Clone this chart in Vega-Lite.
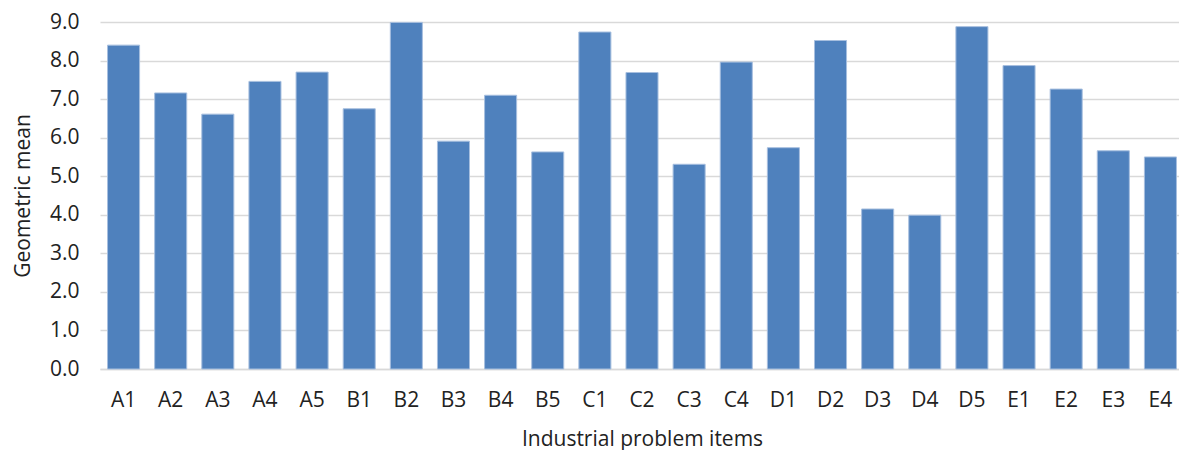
{
  "$schema": "https://vega.github.io/schema/vega-lite/v6.json",
  "width": 1084,
  "height": 347,
  "autosize": {"type": "none"},
  "padding": {"left": 100, "top": 22, "right": 0, "bottom": 81},
  "background": "white",
  "config": {
    "view": {"stroke": null},
    "font": "Open Sans",
    "axis": {
      "labelFont": "Open Sans",
      "titleFont": "Open Sans",
      "labelColor": "#222222",
      "titleColor": "#222222",
      "titleFontWeight": "normal"
    }
  },
  "data": {
    "values": [
      {"item": "A1", "mean": 8.40},
      {"item": "A2", "mean": 7.16},
      {"item": "A3", "mean": 6.61},
      {"item": "A4", "mean": 7.46},
      {"item": "A5", "mean": 7.70},
      {"item": "B1", "mean": 6.75},
      {"item": "B2", "mean": 8.99},
      {"item": "B3", "mean": 5.91},
      {"item": "B4", "mean": 7.10},
      {"item": "B5", "mean": 5.63},
      {"item": "C1", "mean": 8.74},
      {"item": "C2", "mean": 7.69},
      {"item": "C3", "mean": 5.31},
      {"item": "C4", "mean": 7.96},
      {"item": "D1", "mean": 5.74},
      {"item": "D2", "mean": 8.52},
      {"item": "D3", "mean": 4.15},
      {"item": "D4", "mean": 3.99},
      {"item": "D5", "mean": 8.88},
      {"item": "E1", "mean": 7.87},
      {"item": "E2", "mean": 7.26},
      {"item": "E3", "mean": 5.66},
      {"item": "E4", "mean": 5.50}
    ]
  },
  "mark": {
    "type": "bar",
    "color": "#4f81bd",
    "stroke": "#a7bfdf",
    "strokeWidth": 1
  },
  "encoding": {
    "x": {
      "field": "item",
      "type": "nominal",
      "sort": null,
      "scale": {"paddingInner": 0.32, "paddingOuter": 0.16},
      "axis": {
        "title": "Industrial problem items",
        "titleFontSize": 21,
        "titlePadding": 18,
        "labelFontSize": 21,
        "labelAngle": 0,
        "labelPadding": 20,
        "ticks": false,
        "domainColor": "#d9d9d9",
        "domainWidth": 1.5,
        "grid": false
      }
    },
    "y": {
      "field": "mean",
      "type": "quantitative",
      "scale": {"domain": [0, 9], "nice": false},
      "axis": {
        "title": "Geometric mean",
        "titleFontSize": 21,
        "titlePadding": 16,
        "values": [0, 1, 2, 3, 4, 5, 6, 7, 8, 9],
        "format": ".1f",
        "labelFontSize": 21,
        "labelPadding": 21,
        "ticks": false,
        "domain": false,
        "grid": true,
        "gridColor": "#d9d9d9",
        "gridWidth": 1.5
      }
    }
  }
}
